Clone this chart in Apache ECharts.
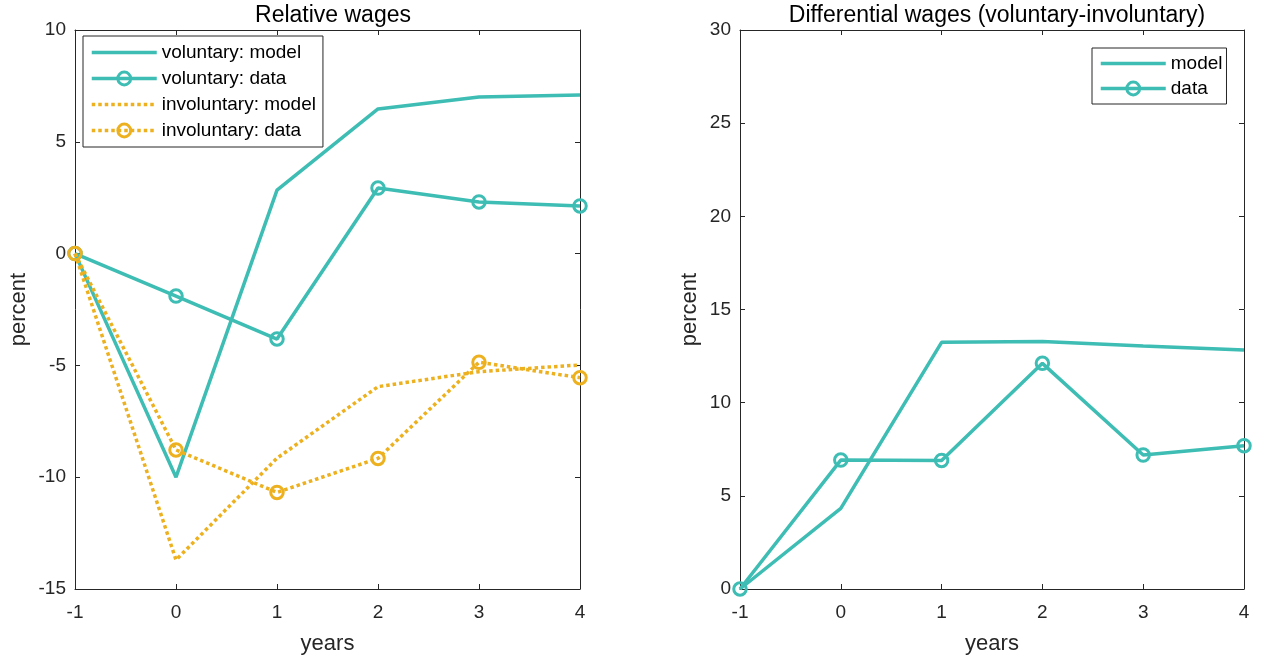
<!DOCTYPE html>
<html>
<head>
<meta charset="utf-8">
<script src="https://cdn.jsdelivr.net/npm/echarts@6/dist/echarts.min.js"></script>
<style>
  html, body { margin: 0; padding: 0; background: #fff; }
  #chart { width: 1261px; height: 662px; }
</style>
</head>
<body>
<div id="chart"></div>
<script>
// Years after the separation event
const years = [-1, 0, 1, 2, 3, 4];

// Relative wages (percent)
const volModel = [0, -10.0, 2.84, 6.47, 7.0, 7.09];
const volData = [0, -1.9, -3.82, 2.93, 2.31, 2.13];
const invModel = [0, -13.7, -9.15, -5.95, -5.28, -4.98];
const invData = [0, -8.78, -10.68, -9.16, -4.86, -5.55];

// Differential wages, voluntary minus involuntary (percent)
const diffModel = [0, 4.33, 13.24, 13.28, 13.04, 12.83];
const diffData = [0, 6.92, 6.9, 12.11, 7.19, 7.69];

// Axis ranges: [min, max, step]
const xTicks = [-1, 4, 1];
const leftYTicks = [-15, 10, 5];
const rightYTicks = [0, 30, 5];

const TEAL = '#3dbdb4';
const GOLD = '#edb120';
const INK = '#262626';
const FONT = 'Liberation Sans, Arial, sans-serif';
const LINE_W = 3.5;

const pairs = vals => years.map((y, i) => [y, vals[i]]);

function xAxes(gridIndex) {
  const base = {
    type: 'value', gridIndex,
    min: xTicks[0], max: xTicks[1], interval: xTicks[2],
    splitLine: { show: false },
    axisLine: { show: true, onZero: false, lineStyle: { color: INK, width: 1 } },
    axisTick: { show: true, inside: true, length: 5, lineStyle: { color: INK } }
  };
  return [
    Object.assign({}, base, {
      position: 'bottom',
      name: 'years', nameLocation: 'middle', nameGap: 44,
      nameTextStyle: { fontSize: 22, color: INK, fontFamily: FONT },
      axisLabel: { fontSize: 19, color: INK, fontFamily: FONT, margin: 14 }
    }),
    Object.assign({}, base, { position: 'top', axisLabel: { show: false } })
  ];
}

function yAxes(gridIndex, ticks, gap) {
  const base = {
    type: 'value', gridIndex,
    min: ticks[0], max: ticks[1], interval: ticks[2],
    splitLine: { show: false },
    axisLine: { show: true, onZero: false, lineStyle: { color: INK, width: 1 } },
    axisTick: { show: true, inside: true, length: 5, lineStyle: { color: INK } }
  };
  return [
    Object.assign({}, base, {
      position: 'left',
      name: 'percent', nameLocation: 'middle', nameRotate: 90, nameGap: gap,
      nameTextStyle: { fontSize: 22, color: INK, fontFamily: FONT },
      axisLabel: { fontSize: 19, color: INK, fontFamily: FONT, margin: 9 }
    }),
    Object.assign({}, base, { position: 'right', axisLabel: { show: false } })
  ];
}

function lineSeries(name, vals, color, opts) {
  return {
    name, type: 'line', data: pairs(vals),
    xAxisIndex: opts.axis * 2, yAxisIndex: opts.axis * 2,
    clip: false,
    lineStyle: { color, width: LINE_W, type: opts.dotted ? [3.5, 3] : 'solid' },
    itemStyle: { color: 'rgba(0,0,0,0)', borderColor: color, borderWidth: 3 },
    symbol: opts.marker ? 'circle' : 'none',
    symbolSize: 12.5,
    showSymbol: !!opts.marker,
    emphasis: { disabled: true }
  };
}

// Legend entries: plain lines hide the marker, data lines show a hollow circle
function legendEntry(name, color, marker) {
  return {
    name,
    itemStyle: marker
      ? { color: 'rgba(0,0,0,0)', borderColor: color, borderWidth: 3, opacity: 1 }
      : { opacity: 0 }
  };
}

const legendBase = {
  orient: 'vertical',
  itemWidth: 65, itemHeight: 16,
  backgroundColor: '#fff', borderColor: INK, borderWidth: 1, borderRadius: 0,
  textStyle: { fontSize: 19, color: '#000', fontFamily: FONT },
  lineStyle: { width: LINE_W },
  selectedMode: false
};

const chart = echarts.init(document.getElementById('chart'), null, { renderer: 'canvas' });
chart.setOption({
  animation: false,
  backgroundColor: '#fff',
  title: [
    { text: 'Relative wages', left: 328, top: -1, textAlign: 'center',
      textStyle: { fontSize: 23, fontWeight: 'normal', color: '#000', fontFamily: FONT } },
    { text: 'Differential wages (voluntary-involuntary)', left: 992, top: -1, textAlign: 'center',
      textStyle: { fontSize: 23, fontWeight: 'normal', color: '#000', fontFamily: FONT } }
  ],
  grid: [
    { left: 75, top: 30, width: 505, height: 559 },
    { left: 740, top: 30, width: 504, height: 559 }
  ],
  xAxis: xAxes(0).concat(xAxes(1)),
  yAxis: yAxes(0, leftYTicks, 45).concat(yAxes(1, rightYTicks, 39)),
  legend: [
    Object.assign({}, legendBase, {
      left: 83, top: 36, padding: [7, 7, 7, 7], itemGap: 7,
      data: [
        legendEntry('voluntary: model', TEAL, false),
        legendEntry('voluntary: data', TEAL, true),
        legendEntry('involuntary: model', GOLD, false),
        legendEntry('involuntary: data', GOLD, true)
      ]
    }),
    Object.assign({}, legendBase, {
      left: 1092, top: 48, padding: [6, 4, 6, 7], itemGap: 6,
      data: [
        legendEntry('model', TEAL, false),
        legendEntry('data', TEAL, true)
      ]
    })
  ],
  series: [
    lineSeries('voluntary: model', volModel, TEAL, { axis: 0 }),
    lineSeries('voluntary: data', volData, TEAL, { axis: 0, marker: true }),
    lineSeries('involuntary: model', invModel, GOLD, { axis: 0, dotted: true }),
    lineSeries('involuntary: data', invData, GOLD, { axis: 0, dotted: true, marker: true }),
    lineSeries('model', diffModel, TEAL, { axis: 1 }),
    lineSeries('data', diffData, TEAL, { axis: 1, marker: true })
  ]
});
</script>
</body>
</html>
